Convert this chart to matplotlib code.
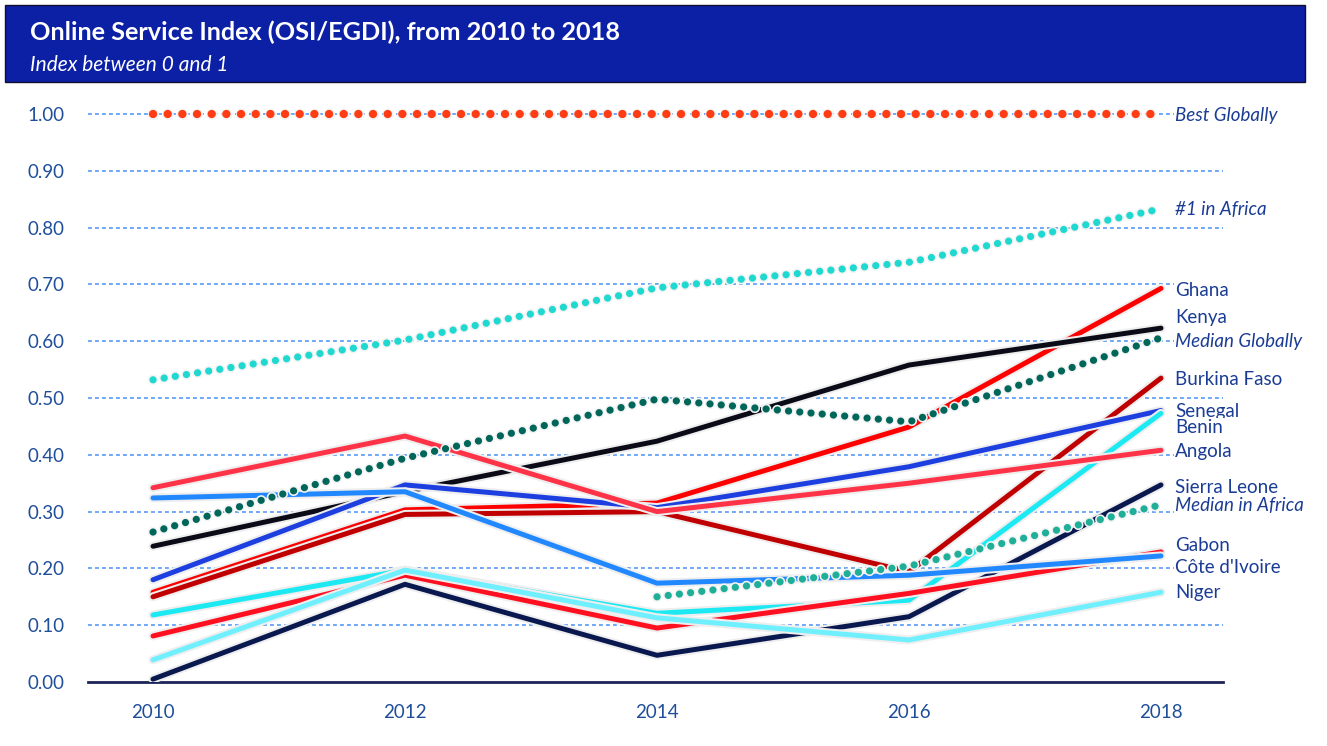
import numpy as np
import matplotlib
matplotlib.use("Agg")
import matplotlib.pyplot as plt
import matplotlib.patheffects as pe
from matplotlib.patches import Rectangle

plt.rcParams['font.family'] = ['Lato', 'DejaVu Sans']

# data
years = [2010, 2012, 2014, 2016, 2018]

ghana = [0.158, 0.303, 0.315, 0.449, 0.693]
kenya = [0.239, 0.335, 0.424, 0.558, 0.623]
burkina_faso = [0.150, 0.295, 0.300, 0.194, 0.535]
senegal = [0.180, 0.347, 0.307, 0.379, 0.478]
benin = [0.118, 0.197, 0.121, 0.144, 0.473]
angola = [0.342, 0.433, 0.300, 0.350, 0.408]
sierra_leone = [0.005, 0.172, 0.047, 0.115, 0.347]
gabon = [0.081, 0.188, 0.095, 0.156, 0.229]
cote_divoire = [0.324, 0.335, 0.174, 0.188, 0.222]
niger = [0.039, 0.197, 0.113, 0.074, 0.158]

best_globally = [1.0, 1.0, 1.0, 1.0, 1.0]
first_in_africa = [0.532, 0.602, 0.694, 0.739, 0.833]
median_globally = [0.264, 0.394, 0.498, 0.458, 0.606]
median_in_africa = [np.nan, np.nan, 0.150, 0.204, 0.312]

# name, values, colour, label y position
countries = [
    ('Ghana', ghana, '#FF0000', 0.690),
    ('Kenya', kenya, '#0B0B18', 0.641),
    ('Burkina Faso', burkina_faso, '#C00000', 0.532),
    ('Senegal', senegal, '#1E3FE0', 0.477),
    ('Benin', benin, '#1DE9F2', 0.448),
    ('Angola', angola, '#FF3347', 0.405),
    ('Sierra Leone', sierra_leone, '#0A1850', 0.343),
    ('Gabon', gabon, '#FF1020', 0.240),
    ("Côte d'Ivoire", cote_divoire, '#2288FF', 0.201),
    ('Niger', niger, '#70F0FF', 0.157),
]

benchmarks = [
    ('Best Globally', best_globally, '#FF3C14', 0.998),
    ('#1 in Africa', first_in_africa, '#1FD8D0', 0.831),
    ('Median Globally', median_globally, '#00665A', 0.600),
    ('Median in Africa', median_in_africa, '#1FAF98', 0.311),
]

W, H = 1327, 746
fig = plt.figure(figsize=(W / 100, H / 100), dpi=100)
fig.patch.set_facecolor('white')

# title banner
fig.patches.append(Rectangle((5 / W, 1 - 82 / H), 1300 / W, 77 / H,
                             transform=fig.transFigure, facecolor='#0C20A6',
                             edgecolor='#101030', linewidth=1))
fig.text(30 / W, 1 - 40 / H, 'Online Service Index (OSI/EGDI), from 2010 to 2018',
         color='white', fontsize=18.2, fontweight='bold')
fig.text(30 / W, 1 - 71 / H, 'Index between 0 and 1', color='white',
         fontsize=15, style='italic')

# axes: y=0 at px 682, y=1 at px 114; 2010 at px 153, 126 px per year
ymax = 1.04
left, right = 88, 1223
ax = fig.add_axes([left / W, 64 / H, (right - left) / W, (568 * ymax) / H])
ax.set_xlim(2010 - 65 / 126.0, 2018 + 62 / 126.0)
ax.set_ylim(0, ymax)

for s in ['top', 'right', 'left']:
    ax.spines[s].set_visible(False)
ax.spines['bottom'].set_color('#1C2458')
ax.spines['bottom'].set_linewidth(2)

ax.set_yticks(np.arange(0, 1.01, 0.1))
ax.set_yticklabels(['%.2f' % v for v in np.arange(0, 1.01, 0.1)])
ax.set_xticks(years)
ax.tick_params(length=0, colors='#1F4E9A', labelsize=13.5)
ax.tick_params(axis='y', pad=17)
ax.tick_params(axis='x', pad=16)

for v in np.arange(0.1, 1.01, 0.1):
    ax.axhline(v, color='#6FA8F8', linewidth=1.4, dashes=(2, 1.6), zorder=1)

halo = [pe.Stroke(linewidth=6.5, foreground='#EEEEEE'), pe.Normal()]

for name, vals, col, ly in countries:
    ax.plot(years, vals, color=col, linewidth=3.6, solid_capstyle='round',
            solid_joinstyle='round', path_effects=halo, zorder=3)

for name, vals, col, ly in benchmarks:
    if name == 'Best Globally':
        ax.plot(years, vals, color=col, linewidth=6, dashes=(0.01, 1.75),
                dash_capstyle='round', zorder=2,
                path_effects=[pe.Stroke(linewidth=8, foreground='#F4F4F4'), pe.Normal()])
    else:
        ax.plot(years, vals, color=col, linewidth=5.2, dashes=(0.01, 1.55),
                dash_capstyle='round', zorder=4,
                path_effects=[pe.Stroke(linewidth=7.5, foreground='#F4F4F4'), pe.Normal()])

box = dict(boxstyle='square,pad=0.05', facecolor='white', edgecolor='none')
for name, vals, col, ly in countries:
    ax.annotate(name, xy=(2018, ly), xytext=(10, 0), textcoords='offset points',
                va='center', ha='left', fontsize=13.5, color='#1A3C94',
                bbox=box, annotation_clip=False, zorder=6)
for name, vals, col, ly in benchmarks:
    ax.annotate(name, xy=(2018, ly), xytext=(10, 0), textcoords='offset points',
                va='center', ha='left', fontsize=13.5, color='#1A3C94',
                style='italic', bbox=box, annotation_clip=False, zorder=6)

plt.savefig('out.png', dpi=100)
